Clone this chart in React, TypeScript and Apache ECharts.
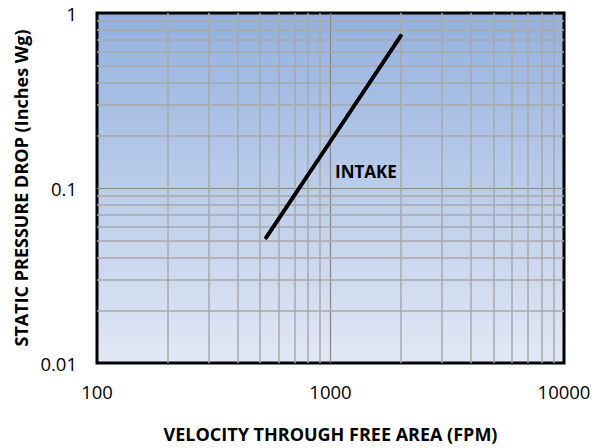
import React, { useEffect, useRef } from "react";
import * as echarts from "echarts";

const intakeVelocity = [530, 1000, 2000];
const intakePressure = [0.052, 0.185, 0.74];
const xMinorGrid = [200, 300, 400, 500, 600, 700, 800, 900, 2000, 3000, 4000, 5000, 6000, 7000, 8000, 9000];
const yMinorGrid = [0.02, 0.03, 0.04, 0.05, 0.06, 0.07, 0.08, 0.09, 0.2, 0.3, 0.4, 0.5, 0.6, 0.7, 0.8, 0.9];
const xTitle = "VELOCITY THROUGH FREE AREA (FPM)";
const yTitle = "STATIC PRESSURE DROP (Inches Wg)";
const seriesLabel = "INTAKE";

const FONT = "'Open Sans', Lato, sans-serif";

export default function App() {
  const ref = useRef<HTMLDivElement>(null);
  useEffect(() => {
    document.body.style.margin = "0";
    const chart = echarts.init(ref.current!, null, { renderer: "svg" });
    const minorStyle = { color: "#a8a8a8", width: 1.5, type: "solid" };
    chart.setOption({
      animation: false,
      grid: {
        left: 97,
        top: 13,
        right: 34,
        bottom: 83,
        show: true,
        borderColor: "#000",
        borderWidth: 3,
        backgroundColor: new echarts.graphic.LinearGradient(0, 0, 0, 1, [
          { offset: 0, color: "#93b1df" },
          { offset: 1, color: "#e2e8f5" },
        ]),
      },
      xAxis: {
        type: "log",
        min: 100,
        max: 10000,
        logBase: 10,
        name: xTitle,
        nameLocation: "middle",
        nameGap: 62,
        nameTextStyle: { fontFamily: FONT, fontWeight: "bold", fontSize: 18, color: "#000" },
        axisLine: { show: false },
        axisTick: { show: false },
        axisLabel: { fontFamily: FONT, fontSize: 18.5, color: "#000", margin: 19, formatter: (v: number) => String(Math.round(v)) },
        splitLine: { show: true, showMinLine: false, showMaxLine: false, lineStyle: { color: "#858585", width: 1.2 } },
      },
      yAxis: {
        type: "log",
        min: 0.01,
        max: 1,
        logBase: 10,
        name: yTitle,
        nameLocation: "middle",
        nameGap: 63,
        nameRotate: 90,
        nameTextStyle: { fontFamily: FONT, fontWeight: "bold", fontSize: 18, color: "#000" },
        axisLine: { show: false },
        axisTick: { show: false },
        axisLabel: {
          fontFamily: FONT,
          fontSize: 18.5,
          color: "#000",
          margin: 20,
          formatter: (v: number) => (v >= 1 ? "1" : v >= 0.1 ? "0.1" : "0.01"),
        },
        splitLine: { show: true, showMinLine: false, showMaxLine: false, lineStyle: { color: "#858585", width: 1.2 } },
      },
      series: [
        {
          type: "line",
          data: [],
          silent: true,
          markLine: {
            silent: true,
            symbol: "none",
            label: { show: false },
            lineStyle: minorStyle,
            data: [
              ...xMinorGrid.map((v) => ({ xAxis: v })),
              ...yMinorGrid.map((v) => ({ yAxis: v })),
            ],
          },
        },
        {
          type: "line",
          name: seriesLabel,
          data: intakeVelocity.map((v, i) => [v, intakePressure[i]]),
          showSymbol: false,
          lineStyle: { color: "#000", width: 4, cap: "round" },
          z: 5,
        },
      ],
      graphic: [
        {
          type: "text",
          x: 335,
          y: 171,
          style: {
            text: seriesLabel,
            fontFamily: FONT,
            fontWeight: "bold",
            fontSize: 17,
            fill: "#000",
            textVerticalAlign: "middle",
          },
        },
      ],
    });
    return () => chart.dispose();
  }, []);
  return <div ref={ref} style={{ width: 598, height: 448 }} />;
}
